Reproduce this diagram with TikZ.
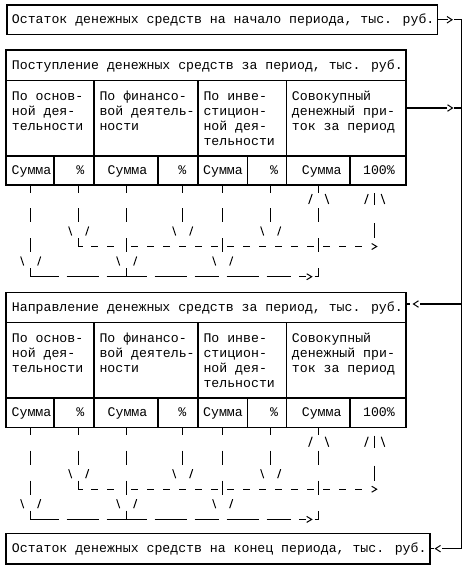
\documentclass[tikz,border=0pt]{standalone}
\usepackage{fontspec}
\setmainfont{Liberation Mono}
\setmonofont{Liberation Mono}
\newcommand\pgVb[3]{\draw[glyph] ({6.7+8*#1},{#2}) -- ({6.7+8*#1},{#3});}
\newcommand\pgDn[2]{%
  \draw[glyph] ({6.7+8*#1-10},{#2-4.5}) -- ({6.7+8*#1-7},{#2+4.5});
  \draw[glyph] ({6.7+8*#1+7},{#2+4.5}) -- ({6.7+8*#1+10},{#2-4.5});}
\newcommand\pgUp[2]{%
  \draw[glyph] ({6.7+8*#1-10},{#2+5}) -- ({6.7+8*#1-6.5},{#2-5});
  \draw[glyph] ({6.7+8*#1+6.5},{#2-5}) -- ({6.7+8*#1+10},{#2+5});}
\newcommand\pgDash[2]{\draw[glyph] ({6.7+8*#1-3.5},{#2}) -- ({6.7+8*#1+3.5},{#2});}
\newcommand\pgSeg[3]{\draw[glyph] ({2.7+8*#1},{#3}) -- ({10.7+8*#2},{#3});}
\begin{document}
\begin{tikzpicture}[x=0.75pt,y=-0.75pt,
  frame/.style={line width=0.85pt},
  glyph/.style={line width=0.75pt},
  boxnode/.style={draw,frame,inner sep=0pt,minimum width=#1},
  txt/.style={anchor=base west,inner sep=0pt,font=\fontsize{9.9pt}{11.25pt}\selectfont},
  ctxt/.style={anchor=base,inner sep=0pt,font=\fontsize{9.9pt}{11.25pt}\selectfont}]
\useasboundingbox[fill=white] (0,0) rectangle (465,565);

% boxes
\node[boxnode=322.9pt,minimum height=22.1pt] (top) at (222.25,19.75) {};
\node[txt] (toptxt) at (11.7,23.75) {Остаток денежных средств на начало периода, тыс. руб.};
\node[boxnode=318pt,minimum height=23pt] (bot) at (218,548.65) {};
\node[txt] (bottxt) at (11.7,552.7) {Остаток денежных средств на конец периода, тыс. руб.};

\node[boxnode=300pt,minimum height=101.25pt] (inc) at (206,117.5) {};
\node[boxnode=300pt,minimum height=101.5pt] (out) at (206,359.85) {};

% tables
\foreach \dy/\k/\head in {0/a/{Поступление денежных средств за период, тыс. руб.},242/b/{Направление денежных средств за период, тыс. руб.}}{
  \draw[frame] (6,80.7+\dy) -- (406,80.7+\dy);
  \draw[frame] (6,156+\dy) -- (406,156+\dy);
  \foreach \x in {94,198,286.7}{\draw[frame] (\x,80.7+\dy) -- (\x,185+\dy);}
  \foreach \x in {54,158,247.7,350}{\draw[frame] (\x,156+\dy) -- (\x,185+\dy);}
  \node[txt] (h\k) at (11.7,69.3+\dy) {\head};
  \foreach \x/\y/\t [count=\i] in {11.7/100/{По основ-},11.7/115/{ной дея-},11.7/130/{тельности},
     99.3/100/{По финансо-},99.3/115/{вой деятель-},99.3/130/{ности},
     203.3/100/{По инве-},203.3/115/{стицион-},203.3/130/{ной дея-},203.3/145/{тельности},
     291.7/100/{Совокупный},291.7/115/{денежный при-},291.7/130/{ток за период}}{
    \node[txt] (c\k\i) at (\x,\y+\dy) {\t};}
  \foreach \x/\t [count=\i] in {31.5/Сумма,80.3/\%,127.5/Сумма,182.3/\%,223/Сумма,274/\%,321.7/Сумма,379/100\%}{
    \node[ctxt] (s\k\i) at (\x,174.5+\dy) {\t};}
}

% pseudographic flows
\foreach \Y in {185,427.7}{
  \foreach \c in {3,9,15,22,27,33,39}{\pgVb{\c}{\Y}{\Y+7.5}}
  \foreach \c in {3,9,15,22,27,33,39}{\pgVb{\c}{\Y+23}{\Y+37}}
  \foreach \c in {3,15,27,39}{\pgVb{\c}{\Y+53}{\Y+67}}
  \foreach \c in {9,22,33}{\pgDn{\c}{\Y+46}}
  \foreach \c in {3,15,27}{\pgDn{\c}{\Y+76}}
  \pgUp{39}{\Y+14}
  \pgUp{46}{\Y+14}
  \pgVb{46}{\Y+8}{\Y+20}
  \pgVb{46}{\Y+38}{\Y+53}
  \draw[glyph] (78.7,\Y+53) -- (78.7,\Y+61.5) -- (82.7,\Y+61.5);
  \foreach \c in {11,13,16,18,20,22,24,26,28,30,32,34,36,38,40,42,44}{\pgDash{\c}{\Y+61.5}}
  \draw[glyph] (371.7,\Y+58.5) -- (376.7,\Y+61.5) -- (371.7,\Y+64.5);
  \draw[glyph] (30.7,\Y+83) -- (30.7,\Y+91.7) -- (58.7,\Y+91.7);
  \pgSeg{8}{11}{\Y+91.7}
  \pgSeg{13}{17}{\Y+91.7}
  \pgSeg{19}{22}{\Y+91.7}
  \pgSeg{24}{26}{\Y+91.7}
  \pgSeg{28}{31}{\Y+91.7}
  \pgSeg{33}{35}{\Y+91.7}
  \pgDash{37}{\Y+91.7}
  \pgVb{15}{\Y+83}{\Y+91.7}
  \draw[glyph] (306.7,\Y+88.7) -- (311.7,\Y+91.7) -- (306.7,\Y+94.7);
  \draw[glyph] (314.7,\Y+91.7) -- (318.7,\Y+91.7) -- (318.7,\Y+83);
}

% right-hand connector
\coordinate (rtop) at (461.5,19.75);
\coordinate (rbot) at (461.5,548.65);
\coordinate (ia) at (406,108);
\coordinate (oa) at (406,304);
\draw[frame] (top.east) -- ++(9.5,0);
\draw[glyph] (447,16.5) -- (452,19.75) -- (447,23);
\draw[frame] (454,19.75) -- (rtop) -- (rbot) -- (441.5,548.65);
\draw[glyph] (440.5,545.4) -- (435.5,548.65) -- (440.5,551.9);
\draw[frame] (bot.east) -- ++(3.5,0);
\draw[frame] (ia) -- (447,108);
\draw[glyph] (447.5,104.75) -- (452.5,108) -- (447.5,111.25);
\draw[frame] (454,108) -- (461.5,108);
\draw[frame] (oa) -- (410,304);
\draw[glyph] (418.5,300.75) -- (413.5,304) -- (418.5,307.25);
\draw[frame] (420,304) -- (461.5,304);
\end{tikzpicture}
\end{document}
